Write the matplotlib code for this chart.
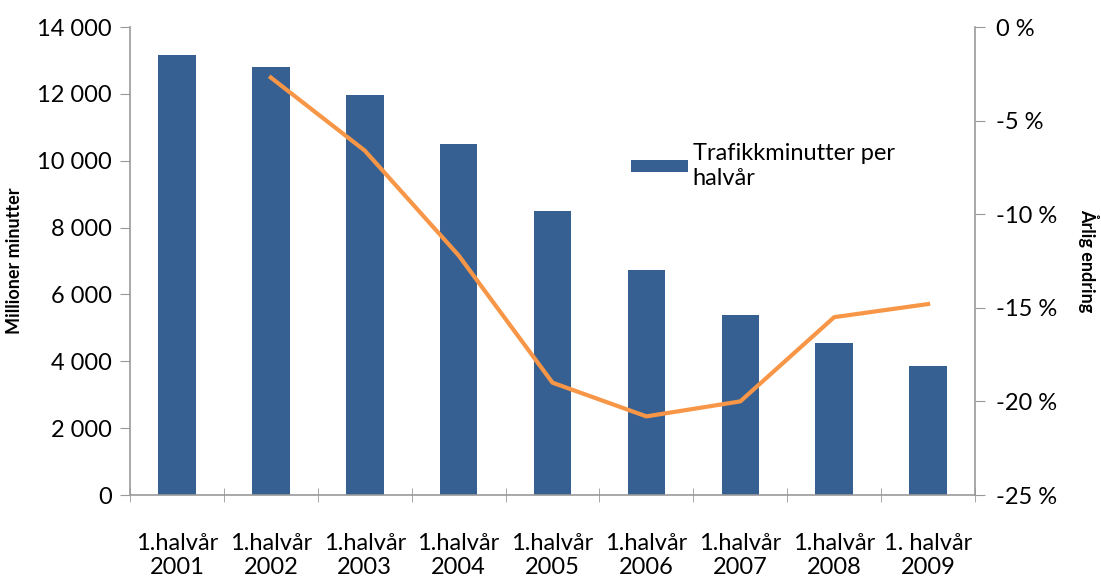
import matplotlib
matplotlib.use('Agg')
import matplotlib.pyplot as plt

# data
labels = ['1.halvår\n2001', '1.halvår\n2002', '1.halvår\n2003', '1.halvår\n2004', '1.halvår\n2005',
          '1.halvår\n2006', '1.halvår\n2007', '1.halvår\n2008', '1. halvår\n2009']
minutes = [13160, 12800, 11965, 10500, 8495, 6730, 5385, 4547, 3859]
change_pos = [1, 2, 3, 4, 5, 6, 7, 8]
change = [-2.7, -6.6, -12.2, -19.0, -20.8, -20.0, -15.5, -14.8]

plt.rcParams['font.family'] = ['Lato', 'DejaVu Sans']
grey = '#999999'

fig = plt.figure(figsize=(11.01, 5.79), dpi=100)
ax = fig.add_axes([130/1101, 84/579, 845/1101, 468/579])
x = list(range(len(minutes)))
ax.bar(x, minutes, width=0.4, color='#376092', label='Trafikkminutter per\nhalvår', zorder=2)
ax.set_xlim(-0.5, len(minutes) - 0.5)
ax.set_ylim(0, 14000)
ax.set_yticks(range(0, 14001, 2000))
ax.set_yticklabels([f'{v:,}'.replace(',', ' ') for v in range(0, 14001, 2000)])
ax.set_xticks(x)
ax.set_xticklabels(labels, linespacing=1.2)
ax.set_xticks([i - 0.5 for i in range(len(minutes) + 1)], minor=True)
ax.tick_params(axis='x', which='major', length=0, pad=27, labelsize=17)
ax.tick_params(axis='x', which='minor', length=10, direction='inout', color=grey)
ax.tick_params(axis='y', length=7, color=grey, labelsize=17, pad=6)
ax.set_ylabel('Millioner minutter', fontsize=13, fontweight='bold', labelpad=10)
for s in ['top', 'right']:
    ax.spines[s].set_visible(False)
for s in ['left', 'bottom']:
    ax.spines[s].set_color(grey)
    ax.spines[s].set_linewidth(1.2)

ax2 = ax.twinx()
ax2.plot(change_pos, change, color='#F79646', linewidth=3, zorder=3)
ax2.set_ylim(-25, 0)
ax2.set_yticks(range(-25, 1, 5))
ax2.set_yticklabels([f'{v} %' for v in range(-25, 1, 5)])
ax2.tick_params(axis='y', length=7, color=grey, labelsize=17, pad=8)
ax2.set_ylabel('Årlig endring', fontsize=13, fontweight='bold', rotation=270, labelpad=30)
for s in ['top', 'left', 'bottom']:
    ax2.spines[s].set_visible(False)
ax2.spines['right'].set_color(grey)
ax2.spines['right'].set_linewidth(1.2)

ax.legend(loc='upper left', bbox_to_anchor=(0.568, 0.797), frameon=False, fontsize=17,
          handlelength=2.4, handleheight=0.45, handletextpad=0.2)

plt.savefig('out.png', dpi=100)
